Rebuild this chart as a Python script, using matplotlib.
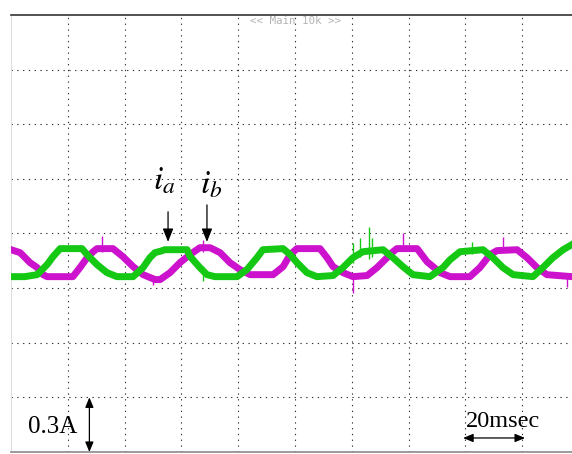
import matplotlib
matplotlib.use("Agg")
import matplotlib.pyplot as plt
import numpy as np

plt.rcParams.update({
    "mathtext.fontset": "stix",
    "font.family": "serif",
    "font.serif": ["Liberation Serif", "DejaVu Serif"],
})

# scope settings: 20 ms/div, 0.3 A/div, 10 x 8 divisions
T_DIV = 20.0
I_DIV = 0.3
TRACE_OFFSET = 1.04   # position of both channels' zero on screen (A)

# phase a current (green channel), ms / A
ia_t = [0, 4.9, 9.2, 12.7, 14.8, 17.3, 20.8, 25.0, 26.8, 30.3,
        33.8, 37.3, 43.0, 46.5, 48.9, 50.7, 52.5, 54.2, 62.0, 63.0,
        66.5, 69.0, 71.8, 79.6, 83.1, 86.6, 88.7, 95.8, 98.3, 100.7,
        104.2, 107.7, 113.4, 116.9, 120.4, 123.9, 131.0, 134.5, 138.0, 141.5,
        147.5, 152.1, 154.6, 158.1, 166.2, 169.7, 173.2, 176.8, 183.8, 187.3,
        190.8, 194.4, 197.5]
ia = [-0.077, -0.077, -0.066, -0.011, 0.033, 0.077, 0.077, 0.077, 0.044, -0.011,
      -0.055, -0.077, -0.077, -0.027, 0.027, 0.055, 0.062, 0.071, 0.071, 0.035,
      -0.027, -0.066, -0.077, -0.077, -0.038, 0.027, 0.071, 0.077, 0.044, 0.000,
      -0.055, -0.077, -0.071, -0.027, 0.027, 0.060, 0.071, 0.027, -0.022, -0.066,
      -0.077, -0.027, 0.016, 0.060, 0.071, 0.027, -0.027, -0.066, -0.077, -0.027,
      0.027, 0.071, 0.099]

# phase b current (magenta channel)
ib_t = [0, 3.2, 6.7, 9.2, 11.3, 12.7, 21.8, 24.3, 26.8, 28.9,
        30.3, 35.9, 39.4, 43.0, 46.5, 50.7, 52.5, 56.0, 59.5, 63.0,
        66.5, 70.1, 73.6, 77.1, 80.6, 84.2, 92.3, 95.8, 98.3, 100.7,
        108.8, 111.3, 113.4, 116.9, 120.4, 125.4, 128.9, 132.4, 134.5, 135.9,
        143.0, 146.5, 148.6, 151.1, 154.6, 161.6, 165.1, 168.7, 171.1, 178.2,
        181.7, 185.2, 188.7, 197.5]
ib = [0.071, 0.055, 0.000, -0.027, -0.066, -0.077, -0.077, -0.027, 0.027, 0.060,
      0.077, 0.077, 0.033, -0.022, -0.066, -0.093, -0.093, -0.055, 0.000, 0.044,
      0.082, 0.082, 0.055, 0.000, -0.038, -0.066, -0.066, -0.022, 0.044, 0.077,
      0.077, 0.027, -0.022, -0.055, -0.077, -0.071, -0.027, 0.027, 0.060, 0.077,
      0.077, 0.005, -0.022, -0.055, -0.077, -0.077, -0.027, 0.044, 0.066, 0.071,
      0.027, -0.027, -0.066, -0.077]

# switching spikes: time, low, high
ia_spk_t = [67.6, 120.4, 122.9, 126.1, 127.1, 162.3]
ia_spk_lo = [-0.099, 0.000, 0.030, 0.020, 0.030, 0.050]
ia_spk_hi = [-0.020, 0.110, 0.137, 0.198, 0.137, 0.115]
ib_spk_t = [31.9, 50.0, 67.6, 120.4, 138.0, 173.2, 195.8]
ib_spk_lo = [0.060, -0.121, 0.060, -0.165, 0.070, 0.060, -0.132]
ib_spk_hi = [0.145, -0.070, 0.126, -0.070, 0.165, 0.143, -0.070]

GREEN = "#14c814"
MAGENTA = "#cc12cc"

fig = plt.figure(figsize=(5.72, 4.54), dpi=100)
ax = fig.add_axes([11 / 572, 2 / 454, 568 / 572, 437 / 454])
ax.set_xlim(0, 10 * T_DIV)
ax.set_ylim(0, 8 * I_DIV)

ax.set_xticks(np.arange(1, 10) * T_DIV)
ax.set_yticks(np.arange(1, 8) * I_DIV)
ax.tick_params(length=0, labelbottom=False, labelleft=False)
ax.grid(True, color="#333333", lw=0.8, ls=(0, (1.2, 4.0)))
ax.set_axisbelow(True)

ax.spines["right"].set_visible(False)
ax.spines["top"].set_color("#333333")
ax.spines["top"].set_linewidth(1.2)
ax.spines["bottom"].set_color("#8a8a8a")
ax.spines["bottom"].set_linewidth(1.2)
ax.spines["left"].set_color("#dddddd")
ax.spines["left"].set_linewidth(0.7)

ib_y = np.array(ib) + TRACE_OFFSET
ia_y = np.array(ia) + TRACE_OFFSET
ax.plot(ib_t, ib_y, color=MAGENTA, lw=5.0, solid_joinstyle="round", zorder=3)
ax.vlines(ib_spk_t, np.array(ib_spk_lo) + TRACE_OFFSET, np.array(ib_spk_hi) + TRACE_OFFSET,
          color=MAGENTA, lw=1.0, zorder=3)
ax.plot(ia_t, ia_y, color=GREEN, lw=5.0, solid_joinstyle="round", zorder=4)
ax.vlines(ia_spk_t, np.array(ia_spk_lo) + TRACE_OFFSET, np.array(ia_spk_hi) + TRACE_OFFSET,
          color=GREEN, lw=1.0, zorder=4)

# channel labels with pointers
arw = dict(arrowstyle="-|>,head_length=0.8,head_width=0.32", color="black", lw=0.9,
           shrinkA=0, shrinkB=0)
ax.annotate("", xy=(55.3, 1.154), xytext=(55.3, 1.319), arrowprops=arw, zorder=6)
ax.annotate("", xy=(69.0, 1.154), xytext=(69.0, 1.357), arrowprops=arw, zorder=6)
ax.text(54.0, 1.44, r"$i_a$", fontsize=24, ha="center", va="baseline", zorder=6)
ax.text(70.6, 1.42, r"$i_b$", fontsize=24, ha="center", va="baseline", zorder=6)

# scale markers
dbl = dict(arrowstyle="<|-|>,head_length=0.6,head_width=0.25", color="black", lw=0.9,
           shrinkA=0, shrinkB=0)
ax.annotate("", xy=(27.6, 0.0), xytext=(27.6, I_DIV), arrowprops=dbl, zorder=6)
ax.text(14.8, 0.137, "0.3A", fontsize=18, ha="center", va="center", zorder=6)
ax.annotate("", xy=(159.2, 0.077), xytext=(181.0, 0.077), arrowprops=dbl, zorder=6)
ax.text(173.2, 0.165, "20msec", fontsize=17.5, ha="center", va="center", zorder=6)

fig.text(295 / 572, 1 - 21 / 454, "<< Main 10k >>", family="DejaVu Sans Mono",
         fontsize=7.8, color="#b4b4b4", ha="center", va="center")

fig.savefig("out.png", dpi=100)
